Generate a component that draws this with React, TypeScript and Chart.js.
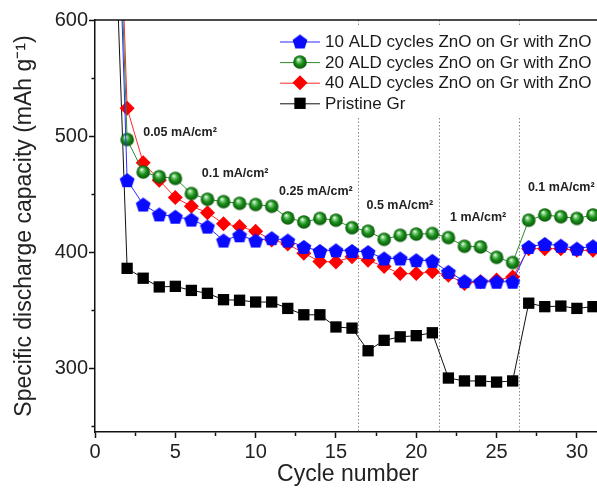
import React, { useEffect, useRef } from "react";
import { Chart, registerables } from "chart.js";

Chart.register(...registerables);

// ---------- data ----------
const cycles = [1, 2, 3, 4, 5, 6, 7, 8, 9, 10, 11, 12, 13, 14, 15, 16, 17, 18, 19, 20, 21, 22, 23, 24, 25, 26, 27, 28, 29, 30, 31];

const seriesNames = [
  "10 ALD cycles ZnO on Gr with ZnO",
  "20 ALD cycles ZnO on Gr with ZnO",
  "40 ALD cycles ZnO on Gr with ZnO",
  "Pristine Gr",
];

const ald10 = [900, 462, 441, 432.5, 430.5, 428, 422, 410, 414.5, 410, 412, 410, 404.5, 401, 401.5, 401, 400, 394.5, 394.5, 393, 392.5, 383, 375, 374.5, 374.5, 374.5, 404.5, 407, 405.5, 403, 405];
const ald20 = [900, 497, 469, 465, 463.5, 450.5, 445.5, 443.5, 442, 441, 439.5, 429.5, 426, 429, 427.5, 421, 418, 411, 414.5, 415.5, 416, 412.5, 405, 404.5, 395.5, 391, 427.5, 432, 430.5, 429, 432];
const ald40 = [930, 524, 477, 462, 447, 439.5, 434, 424.5, 422, 418, 410.5, 407, 399, 392, 391.5, 396, 393, 387.5, 381.5, 381.5, 383, 380, 373, 374.5, 376, 378.5, 403, 403, 403, 401.5, 401.5];
const pristine = [780, 386, 377.5, 370, 370.5, 367, 364.5, 359, 358.5, 357, 357, 351.5, 346, 346, 335.5, 334.5, 315, 324, 327, 328, 330.5, 291.5, 289, 289, 288, 289, 356, 353, 353.5, 351.5, 353];

const xTicks = [0, 2.5, 5, 7.5, 10, 12.5, 15, 17.5, 20, 22.5, 25, 27.5, 30];
const yTicks = [250, 300, 350, 400, 450, 500, 550, 600];

const rateLabels = ["0.05 mA/cm²", "0.1 mA/cm²", "0.25 mA/cm²", "0.5 mA/cm²", "1 mA/cm²", "0.1 mA/cm²"];
const rateLabelX = [3.0, 6.65, 11.46, 16.9, 22.1, 26.95];
const rateLabelY = [503, 468, 452, 440, 430, 456];

const dividers = [16.35, 21.4, 26.4];

const FONT = "'Liberation Sans', Arial, Helvetica, sans-serif";

function makePentagon(r: number, fill: string) {
  const s = Math.ceil(r * 2 + 2);
  const c = document.createElement("canvas");
  c.width = s;
  c.height = s;
  const g = c.getContext("2d")!;
  const cx = s / 2;
  const cy = s / 2 + 0.8;
  g.beginPath();
  for (let i = 0; i < 5; i++) {
    const a = -Math.PI / 2 + (i * 2 * Math.PI) / 5;
    const x = cx + r * Math.cos(a);
    const y = cy + r * Math.sin(a);
    if (i) g.lineTo(x, y);
    else g.moveTo(x, y);
  }
  g.closePath();
  g.fillStyle = fill;
  g.fill();
  return c;
}

function makeSphere(r: number) {
  const s = Math.ceil(r * 2 + 2);
  const c = document.createElement("canvas");
  c.width = s;
  c.height = s;
  const g = c.getContext("2d")!;
  const cx = s / 2;
  const cy = s / 2;
  const grad = g.createRadialGradient(cx - r * 0.25, cy - r * 0.4, r * 0.05, cx, cy, r);
  grad.addColorStop(0, "#f2fbf2");
  grad.addColorStop(0.22, "#7fd07f");
  grad.addColorStop(0.55, "#1a8e1a");
  grad.addColorStop(1, "#0a560a");
  g.beginPath();
  g.arc(cx, cy, r, 0, Math.PI * 2);
  g.fillStyle = grad;
  g.fill();
  return c;
}

export default function App() {
  const ref = useRef<HTMLCanvasElement | null>(null);

  useEffect(() => {
    const canvas = ref.current;
    if (!canvas) return;
    const pent = makePentagon(7.8, "#0a0aff");
    const sphere = makeSphere(6.8);

    const lineColors = ["#2a2aff", "#2e8b2e", "#ff2a2a", "#111111"];
    const values = [ald10, ald20, ald40, pristine];
    const styles: any[] = [pent, sphere, "rectRot", "rect"];
    const radii = [8, 7, 7.5, 8];
    const fills = ["#0a0aff", "#1d941d", "#ff0000", "#000000"];

    const decor = {
      id: "decor",
      beforeDatasetsDraw(chart: any) {
        const { ctx, chartArea, scales } = chart;
        ctx.save();
        ctx.strokeStyle = "#8a8a8a";
        ctx.lineWidth = 1;
        ctx.setLineDash([1.5, 2]);
        dividers.forEach((v) => {
          const px = Math.round(scales.x.getPixelForValue(v)) + 0.5;
          ctx.beginPath();
          ctx.moveTo(px, chartArea.top);
          ctx.lineTo(px, chartArea.bottom);
          ctx.stroke();
        });
        ctx.restore();
      },
      afterDatasetsDraw(chart: any) {
        const { ctx, chartArea, scales } = chart;
        ctx.save();
        // rate annotations
        ctx.fillStyle = "#222";
        ctx.font = `bold 12.5px ${FONT}`;
        ctx.textAlign = "left";
        ctx.textBaseline = "middle";
        rateLabels.forEach((t, i) => {
          ctx.fillText(t, scales.x.getPixelForValue(rateLabelX[i]), scales.y.getPixelForValue(rateLabelY[i]));
        });

        // legend
        const lx = chartArea.left + 185;
        const ly = chartArea.top + 21.5;
        ctx.fillStyle = "#ffffff";
        ctx.fillRect(lx - 6, chartArea.top + 5, 400, 92);
        seriesNames.forEach((name, i) => {
          const y = ly + i * 20.6;
          ctx.strokeStyle = lineColors[i];
          ctx.lineWidth = 1;
          ctx.beginPath();
          ctx.moveTo(lx, y + 0.5);
          ctx.lineTo(lx + 40, y + 0.5);
          ctx.stroke();
          const mx = lx + 20;
          const st = styles[i];
          if (typeof st !== "string") {
            ctx.drawImage(st, mx - st.width / 2, y - st.height / 2);
          } else if (st === "rectRot") {
            const r = radii[i];
            ctx.fillStyle = fills[i];
            ctx.beginPath();
            ctx.moveTo(mx, y - r);
            ctx.lineTo(mx + r, y);
            ctx.lineTo(mx, y + r);
            ctx.lineTo(mx - r, y);
            ctx.closePath();
            ctx.fill();
          } else {
            const h = radii[i] * Math.SQRT1_2;
            ctx.fillStyle = fills[i];
            ctx.fillRect(mx - h, y - h, 2 * h, 2 * h);
          }
          ctx.fillStyle = "#1a1a1a";
          ctx.font = `17px ${FONT}`;
          ctx.textAlign = "left";
          ctx.textBaseline = "middle";
          ctx.fillText(name, lx + 45, y + 1);
        });

        // top border
        ctx.strokeStyle = "#111";
        ctx.lineWidth = 1.5;
        ctx.setLineDash([]);
        ctx.beginPath();
        ctx.moveTo(chartArea.left, chartArea.top);
        ctx.lineTo(chartArea.right, chartArea.top);
        ctx.stroke();
        ctx.restore();
      },
    };

    const chart = new Chart(canvas, {
      type: "line",
      data: {
        datasets: values.map((vals, i) => ({
          label: seriesNames[i],
          data: cycles.map((c, k) => ({ x: c, y: vals[k] })),
          borderColor: lineColors[i],
          backgroundColor: fills[i],
          borderWidth: 1,
          pointStyle: styles[i],
          pointRadius: radii[i],
          pointBorderWidth: 0,
          pointBorderColor: fills[i],
          pointBackgroundColor: fills[i],
          tension: 0,
        })),
      },
      options: {
        responsive: false,
        animation: false,
        events: [],
        layout: { padding: { left: 0, top: 20, right: 9, bottom: 0 } },
        plugins: { legend: { display: false }, tooltip: { enabled: false } },
        scales: {
          x: {
            type: "linear",
            min: 0,
            max: 31.5,
            afterBuildTicks: (s: any) => {
              s.ticks = xTicks.map((v) => ({ value: v }));
            },
            afterFit: (s: any) => {
              s.height = 58;
            },
            ticks: {
              autoSkip: false,
              maxRotation: 0,
              padding: 2,
              color: "#222",
              font: { family: FONT, size: 20 },
              callback: (v: any) => (Number(v) % 5 === 0 ? String(v) : ""),
            },
            grid: {
              drawOnChartArea: false,
              drawTicks: true,
              tickLength: 6,
              tickColor: "#111",
              tickWidth: 1.5,
              tickBorderDash: (ctx: any) => (ctx.tick && ctx.tick.value % 5 === 0 ? [] : [3.5, 100]),
            },
            border: { color: "#111", width: 1.5 },
            title: {
              display: true,
              text: "Cycle number",
              color: "#222",
              font: { family: FONT, size: 23 },
              padding: { top: 0, bottom: 2 },
            },
          },
          y: {
            type: "linear",
            min: 245,
            max: 600,
            afterBuildTicks: (s: any) => {
              s.ticks = yTicks.map((v) => ({ value: v }));
            },
            afterFit: (s: any) => {
              s.width = 95;
            },
            ticks: {
              autoSkip: false,
              padding: 1,
              color: "#222",
              font: { family: FONT, size: 20 },
              callback: (v: any) => (Number(v) % 100 === 0 ? String(v) : ""),
            },
            grid: {
              drawOnChartArea: false,
              drawTicks: true,
              tickLength: 6,
              tickColor: "#111",
              tickWidth: 1.5,
              tickBorderDash: (ctx: any) => (ctx.tick && ctx.tick.value % 100 === 0 ? [] : [0, 2.5, 3.5, 100]),
            },
            border: { color: "#111", width: 1.5 },
            title: {
              display: true,
              text: "Specific discharge capacity (mAh g⁻¹)",
              color: "#222",
              font: { family: FONT, size: 23 },
              padding: { top: 11, bottom: 0 },
            },
          },
        },
      },
      plugins: [decor],
    } as any);

    return () => chart.destroy();
  }, []);

  return (
    <div style={{ position: "absolute", left: 0, top: 0, width: 597, height: 490, overflow: "hidden", background: "#fff" }}>
      <canvas ref={ref} width={610} height={490} style={{ display: "block", width: 610, height: 490 }} />
    </div>
  );
}
